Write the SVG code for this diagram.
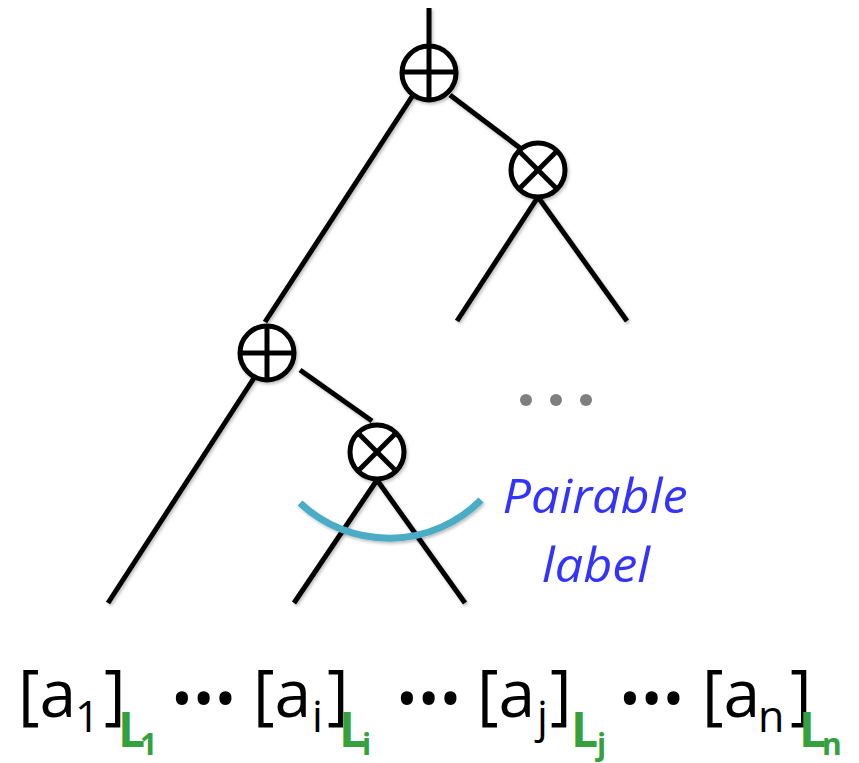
<svg xmlns="http://www.w3.org/2000/svg" width="859" height="763" viewBox="0 0 859 763">
<defs>
<filter id="sh" x="-20%" y="-20%" width="140%" height="140%">
<feDropShadow dx="1.5" dy="2" stdDeviation="1.5" flood-color="#000" flood-opacity="0.25"/>
</filter>
<style>
.ln{stroke:#000;stroke-width:5;fill:none;stroke-linecap:butt}
.nd{stroke:#000;stroke-width:5;fill:#fff}
.main{font-family:"Open Sans","Liberation Sans",sans-serif;font-size:66px;fill:#000}
.sub{font-family:"Open Sans","Liberation Sans",sans-serif;font-size:43px;fill:#000}
.lab{font-family:"Open Sans","Liberation Sans",sans-serif;font-size:48px;font-weight:bold;fill:#35A03E}
.labsub{font-family:"Open Sans","Liberation Sans",sans-serif;font-size:30px;font-weight:bold;fill:#35A03E}
.dots{font-family:"Open Sans","Liberation Sans",sans-serif;font-size:58px;fill:#000}
.pl{font-family:"Open Sans","Liberation Sans",sans-serif;font-size:48px;font-style:italic;fill:#3333FF;text-anchor:middle}
</style>
</defs>
<rect width="859" height="763" fill="#fff"/>
<g id="connectors" filter="url(#sh)">
<line class="ln" x1="429" y1="8" x2="429" y2="46"/>
<line class="ln" x1="415" y1="92" x2="265" y2="322"/>
<line class="ln" x1="450" y1="95" x2="520" y2="148"/>
<line class="ln" x1="538" y1="197" x2="457" y2="321"/>
<line class="ln" x1="538" y1="197" x2="627" y2="321"/>
<line class="ln" x1="300" y1="370" x2="372" y2="421"/>
<line class="ln" x1="254" y1="378" x2="108" y2="603"/>
<line class="ln" x1="377" y1="480" x2="294" y2="603"/>
<line class="ln" x1="377" y1="480" x2="465" y2="603"/>
</g>
<g id="plus1" filter="url(#sh)">
<circle class="nd" cx="429" cy="73" r="27"/>
<line class="ln" x1="402" y1="72" x2="456" y2="72"/>
<line class="ln" x1="429" y1="46" x2="429" y2="100"/>
</g>
<g id="times1" filter="url(#sh)">
<circle class="nd" cx="538" cy="170" r="27"/>
<line class="ln" x1="519" y1="151" x2="557" y2="189"/>
<line class="ln" x1="557" y1="151" x2="519" y2="189"/>
</g>
<g id="plus2" filter="url(#sh)">
<circle class="nd" cx="267" cy="353" r="27"/>
<line class="ln" x1="240" y1="353" x2="294" y2="353"/>
<line class="ln" x1="267" y1="326" x2="267" y2="380"/>
</g>
<g id="times2" filter="url(#sh)">
<circle class="nd" cx="377" cy="452" r="27"/>
<line class="ln" x1="358" y1="433" x2="396" y2="471"/>
<line class="ln" x1="396" y1="433" x2="358" y2="471"/>
</g>
<g id="ellipsis">
<circle cx="526" cy="400" r="6" fill="#7f7f7f"/>
<circle cx="556" cy="400" r="6" fill="#7f7f7f"/>
<circle cx="586" cy="400" r="6" fill="#7f7f7f"/>
</g>
<g id="pairable">
<path d="M 300 503 A 130 130 0 0 0 481 500" fill="none" stroke="#4BACC6" stroke-width="7" filter="url(#sh)"/>
<text class="pl" x="595" y="513" textLength="185" lengthAdjust="spacingAndGlyphs">Pairable</text>
<text class="pl" x="596" y="582" textLength="108" lengthAdjust="spacingAndGlyphs">label</text>
</g>
<g id="term1">
<text class="main" x="18" y="717">[a</text>
<text class="sub" x="75" y="732">1</text>
<text class="main" x="104" y="717">]</text>
<text class="lab" x="118" y="747">L</text>
<text class="labsub" x="140" y="755">1</text>
</g>
<text class="dots" x="171" y="720">•••</text>
<g id="termi">
<text class="main" x="253" y="717">[a</text>
<text class="sub" x="312" y="732">i</text>
<text class="main" x="327" y="717">]</text>
<text class="lab" x="339" y="747">L</text>
<text class="labsub" x="362" y="755">i</text>
</g>
<text class="dots" x="396" y="720">•••</text>
<g id="termj">
<text class="main" x="477" y="717">[a</text>
<text class="sub" x="537" y="732">j</text>
<text class="main" x="550" y="717">]</text>
<text class="lab" x="571" y="747">L</text>
<text class="labsub" x="597" y="755">j</text>
</g>
<text class="dots" x="619" y="720">•••</text>
<g id="termn">
<text class="main" x="702" y="717">[a</text>
<text class="sub" x="758" y="732">n</text>
<text class="main" x="790" y="717">]</text>
<text class="lab" x="799" y="747">L</text>
<text class="labsub" x="822" y="755">n</text>
</g>
</svg>
